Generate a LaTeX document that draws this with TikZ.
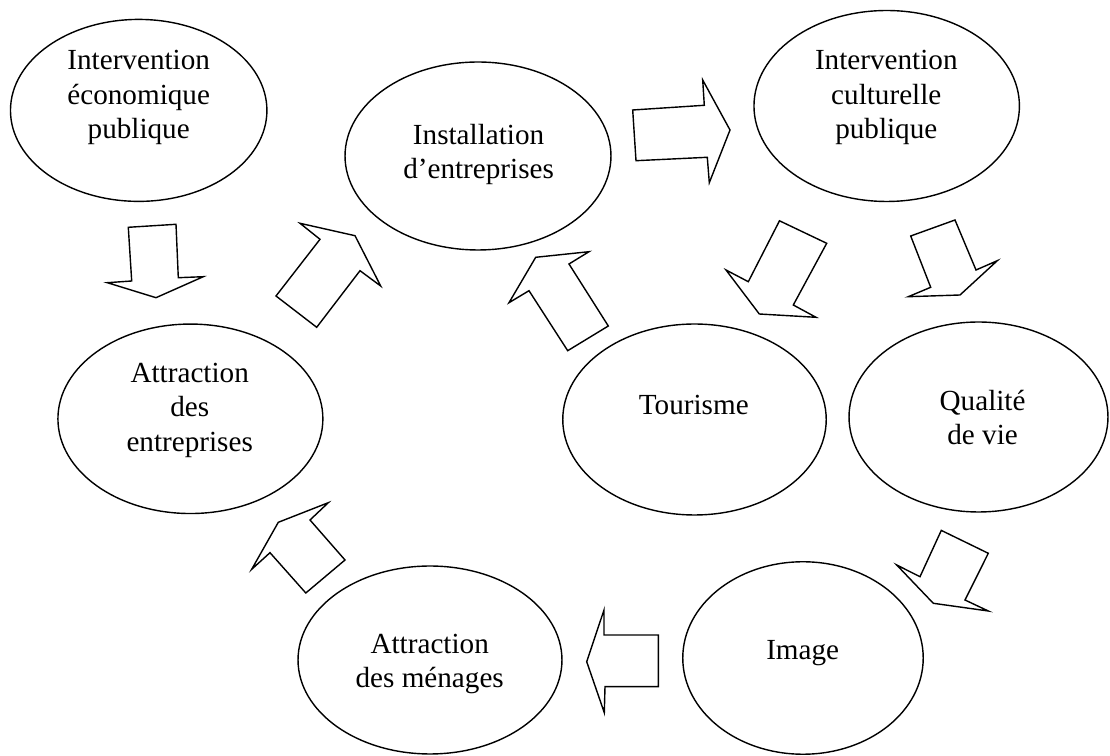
\documentclass[tikz,border=0pt]{standalone}
\usepackage{fontspec}
\setmainfont{Liberation Serif}
\usetikzlibrary{shapes,calc}

\begin{document}
\begin{tikzpicture}[x=0.02cm,y=-0.02cm,
  bubble/.style 2 args={draw,ellipse,line width=0.8pt,inner sep=0pt,minimum width=#1cm,minimum height=#2cm},
  words/.style={align=center,inner sep=0pt,font=\fontsize{16.6}{19.6}\selectfont},
  blockarrow/.style={draw,line width=0.8pt,line join=miter}]
\useasboundingbox (0,0) rectangle (1110,756);
% the eight bubbles
\node[bubble={5.13}{3.64}] (econ) at (138.7,110.4) {};
\node[bubble={5.32}{3.76}] (install) at (478,156) {};
\node[bubble={5.31}{3.82}] (cult) at (886.7,106) {};
\node[bubble={5.30}{3.79}] (attrent) at (190.4,418.8) {};
\node[bubble={5.27}{3.82}] (tour) at (694.5,419.5) {};
\node[bubble={5.18}{3.80}] (qual) at (978.5,417) {};
\node[bubble={4.81}{3.85}] (image) at (803,658) {};
\node[bubble={5.28}{3.76}] (menag) at (430,660) {};
% their texts
\node[words] (econ-t) at (138.7,97.5) {Intervention\\économique\\publique};
\node[words] (install-t) at (478.6,154.5) {Installation\\d’entreprises};
\node[words] (cult-t) at (886.3,97.5) {Intervention\\culturelle\\publique};
\node[words] (attrent-t) at (189.7,410.3) {Attraction\\des\\entreprises};
\node[words] (tour-t) at (693.8,404.5) {Tourisme};
\node[words] (qual-t) at (982.6,417.5) {Qualité\\de vie};
\node[words] (image-t) at (802.7,653.5) {Image};
\node[words] (menag-t) at (429.7,663.8) {Attraction\\des ménages};
% block arrows
\draw[blockarrow] (128.3,227.3) -- (176,224.3) -- (178.3,277.7) -- (203.3,276.7) -- (156,297.7) -- (107.3,282.7) -- (131.7,281) -- cycle;
\draw[blockarrow] (300,223.3) -- (355,235.7) -- (380.7,286) -- (360,270.7) -- (316.7,327.3) -- (276,296) -- (320,239.3) -- cycle;
\draw[blockarrow] (632.7,110) -- (704.3,105.3) -- (702.7,80) -- (730,130) -- (709.3,182.7) -- (707.3,157.3) -- (636,160.7) -- cycle;
\draw[blockarrow] (779.5,220.8) -- (826.7,243.3) -- (793.3,305) -- (816,317.3) -- (759.3,314) -- (726,270) -- (748.3,281.7) -- cycle;
\draw[blockarrow] (910.7,236) -- (955,220) -- (976,270) -- (997.3,260.7) -- (960,295) -- (908.3,296.7) -- (930.7,287.3) -- cycle;
\draw[blockarrow] (535.7,257.3) -- (589,251.7) -- (569,264) -- (608.3,326) -- (567.7,350.7) -- (529,290.7) -- (509,302.7) -- cycle;
\draw[blockarrow] (941.3,530.4) -- (988.3,553.3) -- (965,600) -- (988.3,611) -- (933.3,603.3) -- (896.7,565) -- (920,576.7) -- cycle;
\draw[blockarrow] (604,610) -- (604,635) -- (658.3,635) -- (658.3,686.7) -- (605,686.7) -- (604.3,712.7) -- (586.7,661.7) -- cycle;
\draw[blockarrow] (328.3,502.7) -- (310,520) -- (345,560) -- (305.8,593) -- (270,552.7) -- (251.7,569.3) -- (278.3,522.3) -- cycle;
\end{tikzpicture}
\end{document}
